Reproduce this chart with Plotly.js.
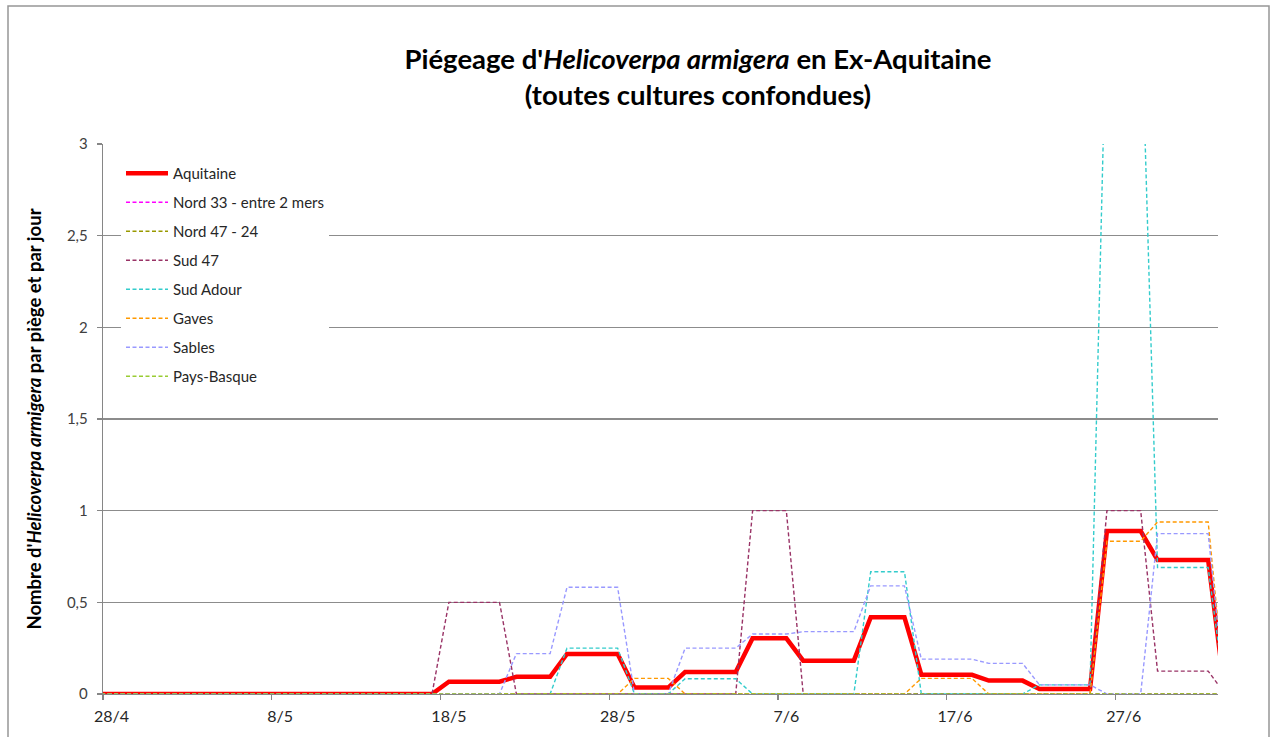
<!DOCTYPE html>
<html>
<head>
<meta charset="utf-8">
<script src="https://cdn.plot.ly/plotly-3.0.1.min.js"></script>
<style>
html,body{margin:0;padding:0;background:#fff;}
#chart{width:1270px;height:737px;}
</style>
</head>
<body>
<div id="chart"></div>
<script>
// Daily dates (27/4 .. 3/7)
const dates = [
 '2016-04-27','2016-04-28','2016-04-29','2016-04-30',
 '2016-05-01','2016-05-02','2016-05-03','2016-05-04','2016-05-05','2016-05-06','2016-05-07','2016-05-08','2016-05-09','2016-05-10',
 '2016-05-11','2016-05-12','2016-05-13','2016-05-14','2016-05-15','2016-05-16','2016-05-17','2016-05-18','2016-05-19','2016-05-20',
 '2016-05-21','2016-05-22','2016-05-23','2016-05-24','2016-05-25','2016-05-26','2016-05-27','2016-05-28','2016-05-29','2016-05-30','2016-05-31',
 '2016-06-01','2016-06-02','2016-06-03','2016-06-04','2016-06-05','2016-06-06','2016-06-07','2016-06-08','2016-06-09','2016-06-10',
 '2016-06-11','2016-06-12','2016-06-13','2016-06-14','2016-06-15','2016-06-16','2016-06-17','2016-06-18','2016-06-19','2016-06-20',
 '2016-06-21','2016-06-22','2016-06-23','2016-06-24','2016-06-25','2016-06-26','2016-06-27','2016-06-28','2016-06-29','2016-06-30',
 '2016-07-01','2016-07-02','2016-07-03'
];

// 27/4..17/5 (21 days) then periods
const aquitaine = [
 0,0,0,0,0,0,0,0,0,0,0,0,0,0,0,0,0,0,0,0,0,
 0.067,0.067,0.067,0.067,
 0.094,0.094,0.094,
 0.218,0.218,0.218,0.218,
 0.035,0.035,0.035,
 0.12,0.12,0.12,0.12,
 0.304,0.304,0.304,
 0.182,0.182,0.182,0.182,
 0.418,0.418,0.418,
 0.105,0.105,0.105,0.105,
 0.073,0.073,0.073,
 0.027,0.027,0.027,0.027,
 0.889,0.889,0.889,
 0.731,0.731,0.731,0.731,
 0
];
const nord33 = [
 0,0,0,0,0,0,0,0,0,0,0,0,0,0,0,0,0,0,0,0,0,
 0,0,0,0, 0,0,0, 0,0,0,0, 0,0,0, 0,0,0,0, 0,0,0, 0,0,0,0, 0,0,0,
 0,0,0,0, 0,0,0, 0,0,0,0, 0,0,0, 0,0,0,0, 0
];
const nord4724 = [
 0,0,0,0,0,0,0,0,0,0,0,0,0,0,0,0,0,0,0,0,0,
 0,0,0,0, 0,0,0, 0,0,0,0, 0,0,0, 0,0,0,0, 0,0,0, 0,0,0,0, 0,0,0,
 0,0,0,0, 0,0,0, 0,0,0,0, 0,0,0, 0,0,0,0, 0
];
const sud47 = [
 0,0,0,0,0,0,0,0,0,0,0,0,0,0,0,0,0,0,0,0,0,
 0.5,0.5,0.5,0.5,
 0,0,0,
 0,0,0,0,
 0,0,0,
 0,0,0,0,
 1,1,1,
 0,0,0,0,
 0,0,0,
 0,0,0,0,
 0,0,0,
 0,0,0,0,
 1,1,1,
 0.125,0.125,0.125,0.125,
 0
];
const sudAdour = [
 0,0,0,0,0,0,0,0,0,0,0,0,0,0,0,0,0,0,0,0,0,
 0,0,0,0,
 0,0,0,
 0.25,0.25,0.25,0.25,
 0,0,0,
 0.083,0.083,0.083,0.083,
 0,0,0,
 0,0,0,0,
 0.667,0.667,0.667,
 0,0,0,0,
 0,0,0,
 0.05,0.05,0.05,0.05,
 3.85,3.85,3.85,
 0.69,0.69,0.69,0.69,
 0
];
const gaves = [
 0,0,0,0,0,0,0,0,0,0,0,0,0,0,0,0,0,0,0,0,0,
 0,0,0,0,
 0,0,0,
 0,0,0,0,
 0.085,0.085,0.085,
 0,0,0,0,
 0,0,0,
 0,0,0,0,
 0,0,0,
 0.085,0.085,0.085,0.085,
 0,0,0,
 0,0,0,0,
 0.833,0.833,0.833,
 0.938,0.938,0.938,0.938,
 0
];
const sables = [
 0,0,0,0,0,0,0,0,0,0,0,0,0,0,0,0,0,0,0,0,0,
 0,0,0,0,
 0.22,0.22,0.22,
 0.582,0.582,0.582,0.582,
 0,0,0,
 0.25,0.25,0.25,0.25,
 0.327,0.327,0.327,
 0.34,0.34,0.34,0.34,
 0.59,0.59,0.59,
 0.19,0.19,0.19,0.19,
 0.167,0.167,0.167,
 0.05,0.05,0.05,0.05,
 0,0,0,
 0.875,0.875,0.875,0.875,
 0
];
const paysBasque = [
 0,0,0,0,0,0,0,0,0,0,0,0,0,0,0,0,0,0,0,0,0,
 0,0,0,0, 0,0,0, 0,0,0,0, 0,0,0, 0,0,0,0, 0,0,0, 0,0,0,0, 0,0,0,
 0,0,0,0, 0,0,0, 0,0,0,0, 0,0,0, 0,0,0,0, 0
];

const seriesNames = ['Aquitaine','Nord 33 - entre 2 mers','Nord 47 - 24','Sud 47','Sud Adour','Gaves','Sables','Pays-Basque'];
const seriesValues = [aquitaine, nord33, nord4724, sud47, sudAdour, gaves, sables, paysBasque];
const seriesColors = ['#FF0000','#FF00FF','#999900','#993366','#33CCCC','#FF9900','#9999FF','#99CC33'];

const tickDates = ['2016-04-28','2016-05-08','2016-05-18','2016-05-28','2016-06-07','2016-06-17','2016-06-27'];
const tickLabels = ['28/4','8/5','18/5','28/5','7/6','17/6','27/6'];

const HALF_DAY = 12*3600*1000;
const minorTicks = tickDates.map(d => Date.parse(d) - HALF_DAY);

const traces = seriesNames.map((name, k) => ({
  type: 'scatter',
  mode: 'lines',
  name: name,
  legendgroup: 'g' + k,
  x: dates,
  y: seriesValues[k],
  line: k === 0
    ? {color: seriesColors[k], width: 4.5}
    : {color: seriesColors[k], width: 1.4, dash: '4px,2.5px'},
  hoverinfo: 'x+y+name'
}));

const font = 'Lato, "Open Sans", sans-serif';

const layout = {
  width: 1270,
  height: 737,
  margin: {l: 103, r: 52, t: 144, b: 43, pad: 0},
  paper_bgcolor: '#ffffff',
  plot_bgcolor: '#ffffff',
  separators: ', ',
  font: {family: font, color: '#404040'},
  showlegend: true,
  title: {
    text: "<b>Piégeage d'<i>Helicoverpa armigera</i> en Ex-Aquitaine<br>(toutes cultures confondues)</b>",
    font: {family: font, size: 27.5, color: '#000000'},
    x: 698/1270,
    xref: 'container',
    xanchor: 'center',
    y: 1 - 69/737,
    yref: 'container',
    yanchor: 'top'
  },
  xaxis: {
    type: 'date',
    range: ['2016-04-27 12:00', '2016-07-02 14:00'],
    tickmode: 'array',
    tickvals: tickDates,
    ticktext: tickLabels,
    ticks: '',
    ticklabelstandoff: 7,
    showgrid: false,
    zeroline: false,
    showline: true,
    linecolor: '#868686',
    linewidth: 1.3,
    tickfont: {family: font, size: 16, color: '#262626'},
    minor: {
      tickmode: 'array',
      tickvals: minorTicks,
      ticks: 'outside',
      ticklen: 5,
      tickcolor: '#868686',
      tickwidth: 1.3,
      showgrid: false
    },
    fixedrange: true
  },
  yaxis: {
    range: [0, 3],
    tickmode: 'linear',
    tick0: 0,
    dtick: 0.5,
    showgrid: true,
    gridcolor: '#8c8c8c',
    gridwidth: 1.3,
    zeroline: false,
    showline: true,
    linecolor: '#868686',
    linewidth: 1.3,
    ticks: 'outside',
    ticklen: 5,
    tickcolor: '#868686',
    tickwidth: 1.3,
    ticklabelstandoff: 6,
    tickfont: {family: font, size: 15, color: '#404040'},
    title: {
      text: "<b>Nombre d'<i>Helicoverpa armigera</i> par piège et par jour</b>",
      font: {family: font, size: 18.5, color: '#000000'},
      standoff: 20
    },
    automargin: false,
    fixedrange: true
  },
  legend: {
    x: (121-103)/1115,
    y: (694-157)/550,
    xanchor: 'left',
    yanchor: 'top',
    bgcolor: '#ffffff',
    borderwidth: 0,
    font: {family: font, size: 15, color: '#262626'},
    tracegroupgap: 6.5,
    itemwidth: 42,
    traceorder: 'grouped'
  },
  shapes: [{
    type: 'rect',
    xref: 'paper', yref: 'paper',
    x0: (8-103)/1115, x1: (1269-103)/1115,
    y0: (694-760)/550, y1: (694-6)/550,
    line: {color: '#969696', width: 1.5},
    fillcolor: 'rgba(0,0,0,0)',
    layer: 'below'
  }]
};

Plotly.newPlot('chart', traces, layout, {displayModeBar: false, staticPlot: true});
</script>
</body>
</html>
